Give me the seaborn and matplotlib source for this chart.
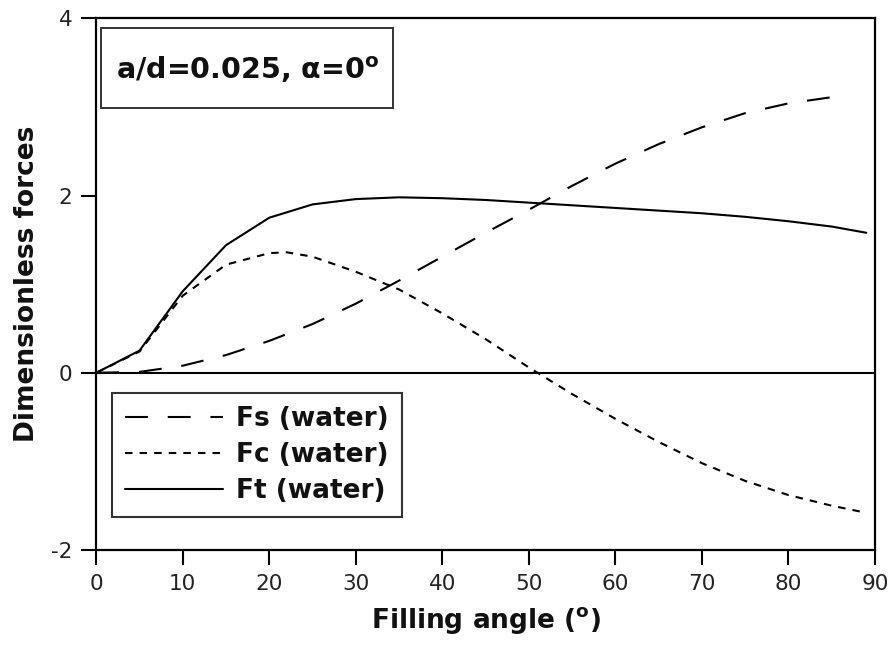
import matplotlib
matplotlib.use("Agg")
import matplotlib.pyplot as plt
from matplotlib.patches import Rectangle
import seaborn as sns
import pandas as pd

# ---- data ----
fs_angle = [0, 5, 10, 15, 20, 25, 30, 35, 40, 45, 50, 55, 60, 65, 70, 75, 80, 85, 87]
fs_value = [0, 0.01, 0.08, 0.20, 0.36, 0.55, 0.78, 1.04, 1.31, 1.58, 1.84, 2.11, 2.36, 2.58, 2.77, 2.93, 3.04, 3.11, 3.12]

fc_angle = [0, 5, 10, 15, 20, 22, 25, 30, 35, 40, 45, 50, 55, 60, 65, 70, 75, 80, 85, 89]
fc_value = [0, 0.24, 0.87, 1.22, 1.35, 1.36, 1.31, 1.14, 0.94, 0.67, 0.38, 0.06, -0.24, -0.52, -0.78, -1.02, -1.22, -1.38, -1.50, -1.58]

ft_angle = [0, 5, 10, 15, 20, 25, 30, 35, 40, 45, 50, 55, 60, 65, 70, 75, 80, 85, 89]
ft_value = [0, 0.25, 0.92, 1.44, 1.75, 1.90, 1.96, 1.98, 1.97, 1.95, 1.92, 1.89, 1.86, 1.83, 1.80, 1.76, 1.71, 1.65, 1.58]

labels = ["Fs (water)", "Fc (water)", "Ft (water)"]
x_ticks = [0, 10, 20, 30, 40, 50, 60, 70, 80, 90]
y_ticks = [-2, 0, 2, 4]

sns.set_style("white")
plt.rcParams["font.family"] = ["DejaVu Sans"]
plt.rcParams["mathtext.fontset"] = "dejavusans"

fig = plt.figure(figsize=(8.91, 6.54), dpi=100)
ax = fig.add_axes([0.108, 0.159, 0.874, 0.813])

df_s = pd.DataFrame({"angle": fs_angle, "force": fs_value})
df_c = pd.DataFrame({"angle": fc_angle, "force": fc_value})
df_t = pd.DataFrame({"angle": ft_angle, "force": ft_value})

lw = 1.5
sns.lineplot(data=df_s, x="angle", y="force", ax=ax, color="black", lw=lw,
             label=labels[0], dashes=False)
ax.lines[-1].set_dashes((11, 9.5))
sns.lineplot(data=df_c, x="angle", y="force", ax=ax, color="black", lw=lw,
             label=labels[1], dashes=False)
ax.lines[-1].set_dashes((3.6, 3.4))
sns.lineplot(data=df_t, x="angle", y="force", ax=ax, color="black", lw=lw,
             label=labels[2])

ax.axhline(0, color="black", lw=1.5, zorder=1)

ax.set_xlim(0, 90)
ax.set_ylim(-2, 4)
ax.set_xticks(x_ticks)
ax.set_yticks(y_ticks)
ax.set_xticklabels([str(v) for v in x_ticks])
ax.set_yticklabels([str(v) for v in y_ticks])

for sp in ax.spines.values():
    sp.set_visible(True)
    sp.set_color("black")
    sp.set_linewidth(1.6)

ax.tick_params(axis="both", which="major", direction="out", length=11, width=1.5,
               color="black", labelsize=15.5, labelcolor="#222222", pad=6,
               left=True, bottom=True, right=False, top=False)

ax.set_xlabel("Filling angle ($^{\\mathbf{o}}$)", fontsize=19, fontweight="bold", labelpad=8,
              color="#111111")
ax.set_ylabel("Dimensionless forces", fontsize=19, fontweight="bold", labelpad=8,
              color="#111111")

# annotation box
ax.add_patch(Rectangle((0.0064, 0.831), 0.3748, 0.150, transform=ax.transAxes,
                       facecolor="white", edgecolor="#333333", lw=1.4, zorder=3))
ax.text(0.194, 0.904, "a/d=0.025, \u03b1=0$^{\\mathbf{o}}$", transform=ax.transAxes,
        fontsize=20.5, fontweight="bold", ha="center", va="center", color="#111111",
        zorder=4)

leg = ax.legend(loc="lower left", bbox_to_anchor=(0.02, 0.062), borderaxespad=0,
                fancybox=False, frameon=True, edgecolor="black", fontsize=19,
                handlelength=3.7, handletextpad=0.5, labelspacing=0.38,
                borderpad=0.5)
leg.get_frame().set_linewidth(1.5)
for t in leg.get_texts():
    t.set_fontweight("bold")
    t.set_color("#111111")

fig.savefig("out.png", dpi=100, facecolor="white")
